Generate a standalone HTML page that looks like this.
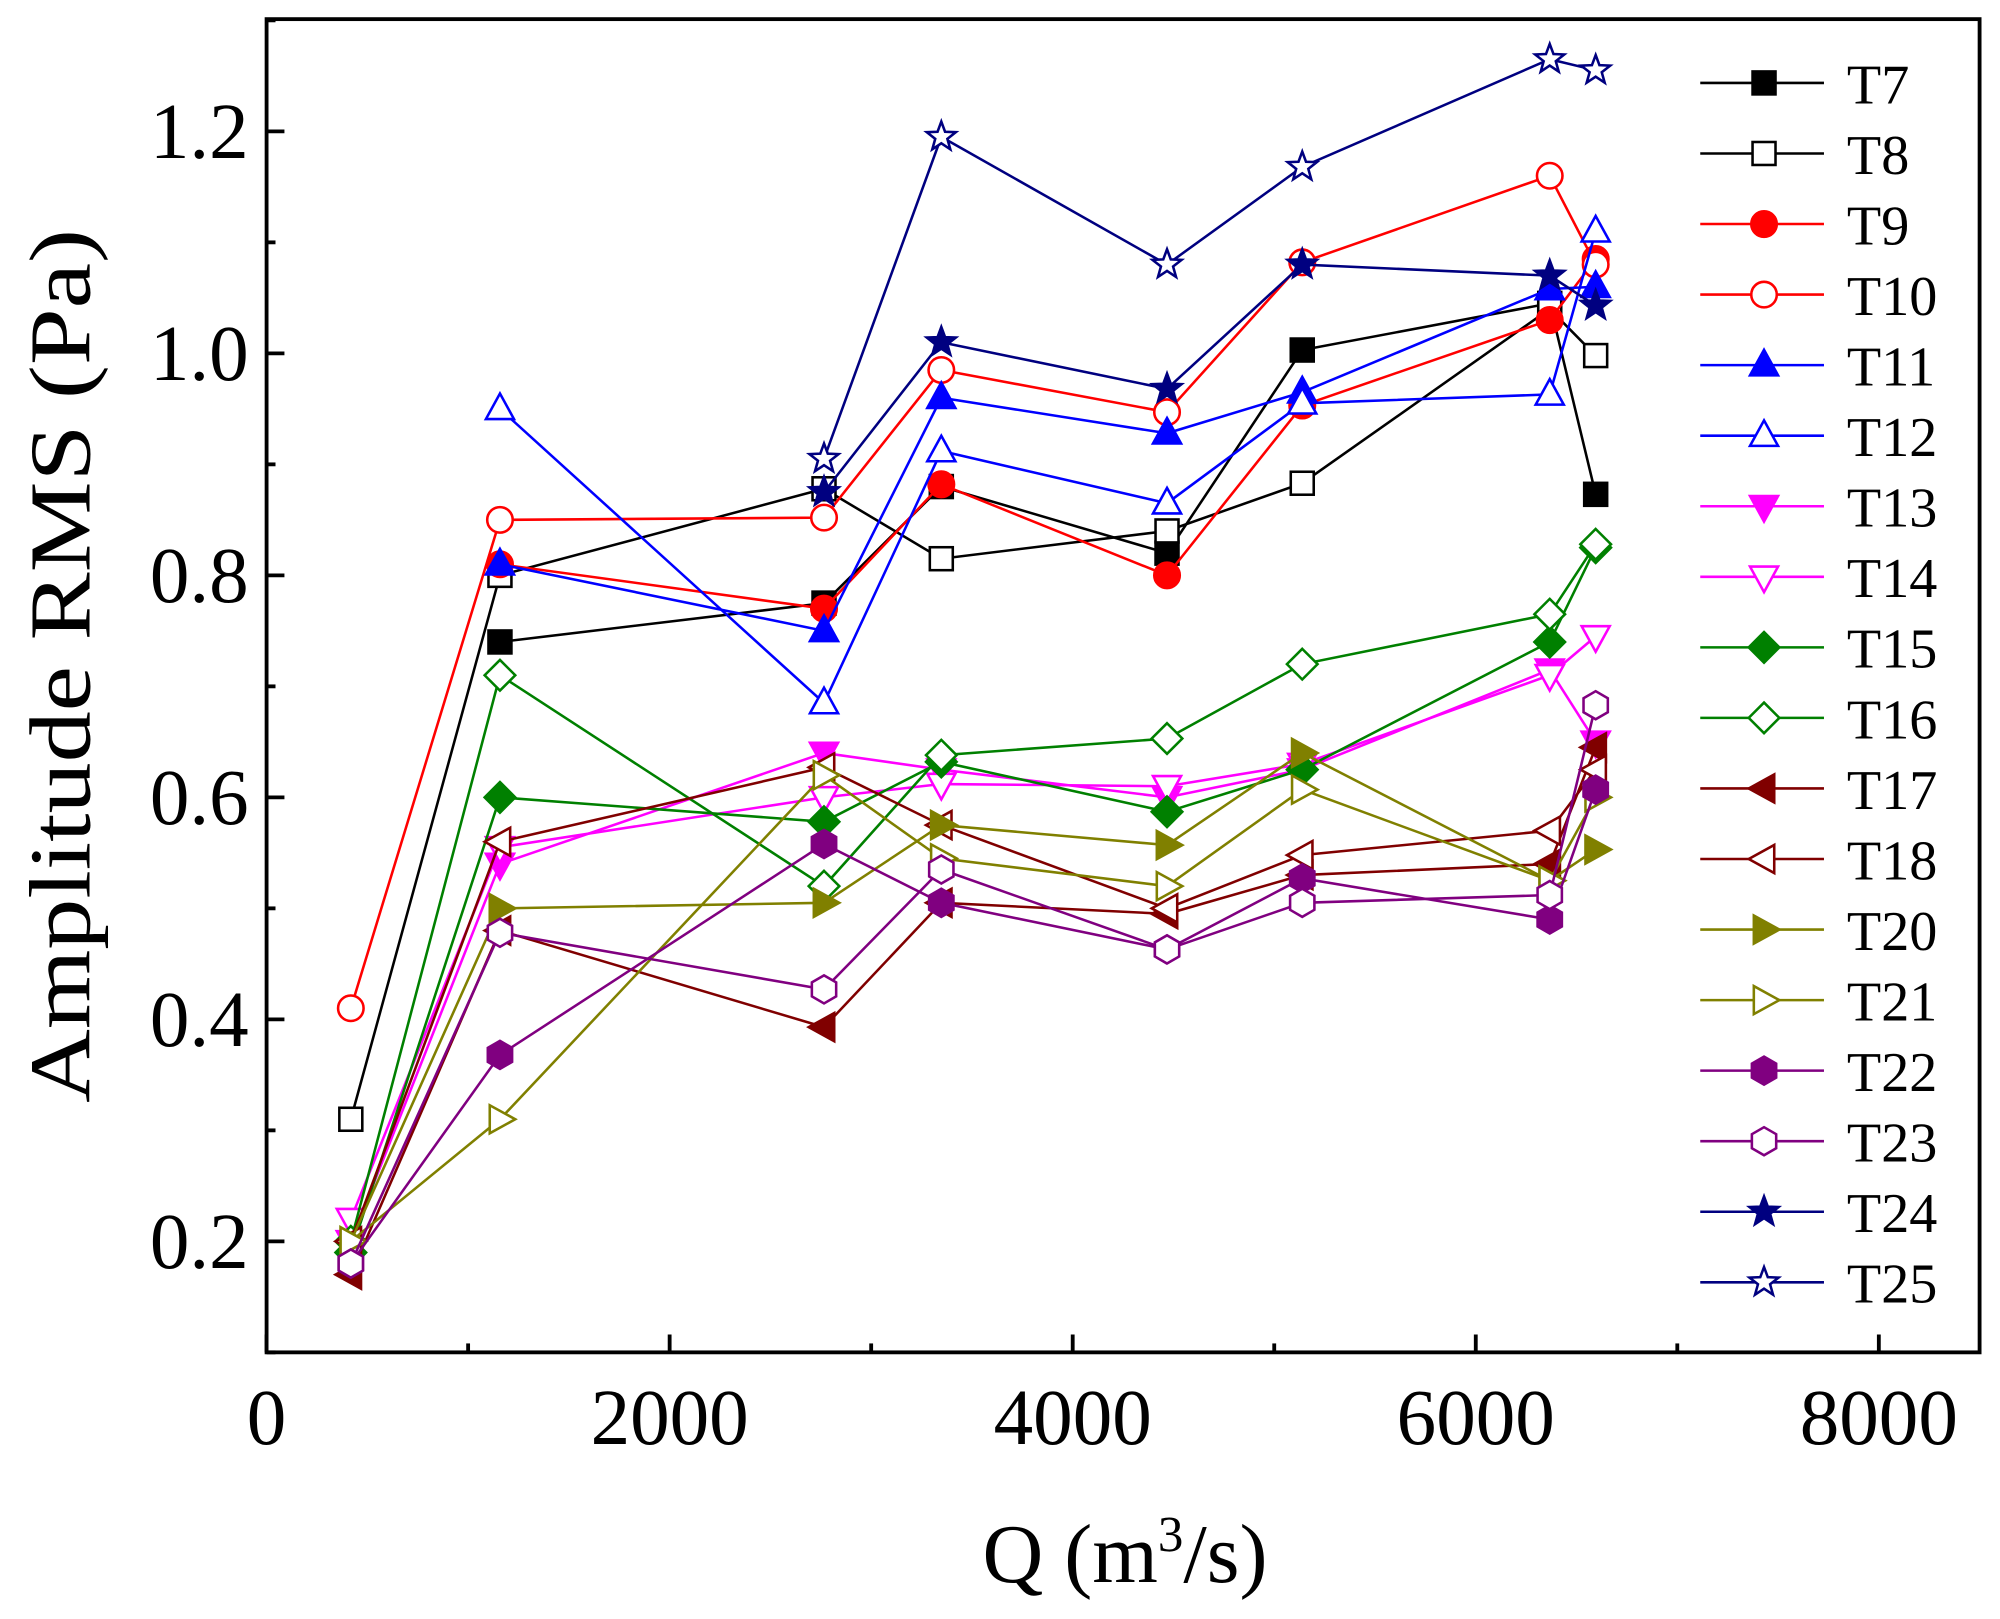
<!DOCTYPE html>
<html><head><meta charset="utf-8"><style>
html,body{margin:0;padding:0;background:#fff;}
svg{display:block;}
text{font-family:"Liberation Serif",serif;}
</style></head><body>
<svg id="chart" width="2000" height="1619" viewBox="0 0 1568 1269" preserveAspectRatio="none" xmlns="http://www.w3.org/2000/svg"></svg>
<script>
const qValues = [418, 1158, 2766, 3348, 4468, 5139, 6367, 6595];
const xTicks = [0, 2000, 4000, 6000, 8000];
const yTicks = [0.2, 0.4, 0.6, 0.8, 1.0, 1.2];
const seriesNames = ["T7","T8","T9","T10","T11","T12","T13","T14","T15","T16","T17","T18","T20","T21","T22","T23","T24","T25"];
const T7 = [null,0.74,0.775,0.88,0.82,1.003,1.045,0.873];
const T8 = [0.31,0.80,0.878,0.815,0.84,0.883,1.04,0.998];
const T9 = [null,0.81,0.77,0.882,0.80,0.953,1.03,1.085];
const T10 = [0.41,0.85,0.852,0.985,0.947,1.082,1.16,1.08];
const T11 = [null,0.81,0.75,0.96,0.928,0.965,1.058,1.06];
const T12 = [null,0.95,0.685,0.912,0.865,0.955,0.963,1.11];
const T13 = [0.2,0.54,0.64,0.625,0.60,0.625,0.715,0.65];
const T14 = [0.22,0.555,0.60,0.612,0.61,0.63,0.71,0.745];
const T15 = [0.19,0.60,0.578,0.632,0.587,0.625,0.74,0.825];
const T16 = [0.2,0.71,0.52,0.638,0.653,0.72,0.765,0.828];
const T17 = [0.17,0.48,0.393,0.505,0.495,0.53,0.54,0.645];
const T18 = [0.2,0.56,0.627,0.575,0.50,0.548,0.57,0.625];
const T20 = [0.2,0.50,0.505,0.575,0.557,0.64,0.525,0.553];
const T21 = [0.2,0.31,0.62,0.545,0.52,0.607,0.525,0.60];
const T22 = [0.18,0.368,0.558,0.505,0.463,0.527,0.49,0.607];
const T23 = [0.18,0.478,0.427,0.535,0.463,0.505,0.512,0.683];
const T24 = [null,null,0.875,1.01,0.968,1.08,1.07,1.043];
const T25 = [null,null,0.905,1.195,1.08,1.168,1.265,1.255];
const seriesValues = [T7,T8,T9,T10,T11,T12,T13,T14,T15,T16,T17,T18,T20,T21,T22,T23,T24,T25];
const styles = [
 ["#000","square",1],["#000","square",0],["#f00","circle",1],["#f00","circle",0],
 ["#00f","up",1],["#00f","up",0],["#f0f","down",1],["#f0f","down",0],
 ["#008000","diamond",1],["#008000","diamond",0],["#800000","left",1],["#800000","left",0],
 ["#808000","right",1],["#808000","right",0],["#800080","hex",1],["#800080","hex",0],
 ["#000080","star",1],["#000080","star",0]];
const NS="http://www.w3.org/2000/svg";
const svg=document.getElementById('chart');
const L=209,R=1552,T=15,B=1060;
const X0=0,X1=8500,Y0=0.1,Y1=1.3011;
function xs(v){return L+(v-X0)/(X1-X0)*(R-L);}
function ys(v){return B-(v-Y0)/(Y1-Y0)*(B-T);}
function el(tag,attrs,parent){const e=document.createElementNS(NS,tag);for(const k in attrs)e.setAttribute(k,attrs[k]);(parent||svg).appendChild(e);return e;}
function markerPath(type,cx,cy){
  if(type==="up")return `M${cx},${cy-12}L${cx+11},${cy+8}L${cx-11},${cy+8}Z`;
  if(type==="down")return `M${cx},${cy+12}L${cx+11},${cy-8}L${cx-11},${cy-8}Z`;
  if(type==="left")return `M${cx-12},${cy}L${cx+8},${cy-11}L${cx+8},${cy+11}Z`;
  if(type==="right")return `M${cx+12},${cy}L${cx-8},${cy-11}L${cx-8},${cy+11}Z`;
  if(type==="diamond")return `M${cx},${cy-12}L${cx+12},${cy}L${cx},${cy+12}L${cx-12},${cy}Z`;
  if(type==="hex"){let p="";for(let i=0;i<6;i++){const a=Math.PI/3*i+Math.PI/2;p+=(i?"L":"M")+(cx+11*Math.cos(a))+","+(cy+11*Math.sin(a));}return p+"Z";}
  if(type==="star"){let p="";for(let i=0;i<10;i++){const r=i%2?5:12;const a=-Math.PI/2+Math.PI/5*i;p+=(i?"L":"M")+(cx+r*Math.cos(a))+","+(cy+r*Math.sin(a));}return p+"Z";}
  return "";
}
function drawMarker(g,st,cx,cy){
  const [c,type,filled]=st;
  const fill=filled?c:"#fff";
  if(type==="square")return el('rect',{x:cx-9,y:cy-9,width:18,height:18,fill:fill,stroke:c,'stroke-width':2},g);
  if(type==="circle")return el('circle',{cx:cx,cy:cy,r:10,fill:fill,stroke:c,'stroke-width':2},g);
  return el('path',{d:markerPath(type,cx,cy),fill:fill,stroke:c,'stroke-width':2},g);
}
const frame=el('rect',{x:L,y:T,width:R-L,height:B-T,fill:'none',stroke:'#000','stroke-width':3});


for(const t of xTicks){
  const tk=el('line',{x1:xs(t),x2:xs(t),y1:B,y2:B-14,stroke:'#000','stroke-width':3});
  
  
  const tx=el('text',{x:xs(t),y:B+72,'font-size':62,'text-anchor':'middle'});tx.textContent=t;
  
  
}
for(let t=1000;t<8500;t+=2000){
  const tk=el('line',{x1:xs(t),x2:xs(t),y1:B,y2:B-7,stroke:'#000','stroke-width':3});
  
  
}
for(const t of yTicks){
  const tk=el('line',{x1:L,x2:L+14,y1:ys(t),y2:ys(t),stroke:'#000','stroke-width':3});
  
  
  const tx=el('text',{x:L-14,y:ys(t)+21,'font-size':62,'text-anchor':'end'});tx.textContent=t.toFixed(1);
  
  
}
for(let t=0.1;t<1.3;t+=0.2){
  const tk=el('line',{x1:L,x2:L+7,y1:ys(t),y2:ys(t),stroke:'#000','stroke-width':3});
  
  
}
const xt=el('text',{x:882,y:1240,'font-size':66,'text-anchor':'middle'});
xt.innerHTML='Q (m<tspan dy="-24" font-size="40">3</tspan><tspan dy="24">/s)</tspan>';


const yt=el('text',{x:0,y:0,'font-size':68,'text-anchor':'middle',textLength:685,lengthAdjust:'spacingAndGlyphs',transform:`translate(70,522) rotate(-90)`});
yt.textContent='Amplitude RMS (Pa)';


seriesValues.forEach((vals,i)=>{
  const st=styles[i];
  const g=el('g',{});
  
  
  const pts=[];
  vals.forEach((v,j)=>{if(v!==null)pts.push(xs(qValues[j])+","+ys(v));});
  el('polyline',{points:pts.join(" "),fill:'none',stroke:st[0],'stroke-width':2},g);
  vals.forEach((v,j)=>{
    if(v===null)return;
    const m=drawMarker(g,st,xs(qValues[j]),ys(v));
    
    
  });
});
seriesNames.forEach((n,i)=>{
  const y=65+i*55.3;
  const g=el('g',{});
  
  
  el('line',{x1:1333,x2:1430,y1:y,y2:y,stroke:styles[i][0],'stroke-width':2},g);
  drawMarker(g,styles[i],1383,y);
  const t=el('text',{x:1448,y:y+16,'font-size':44},g);t.textContent=n;
});
</script>
</body></html>
